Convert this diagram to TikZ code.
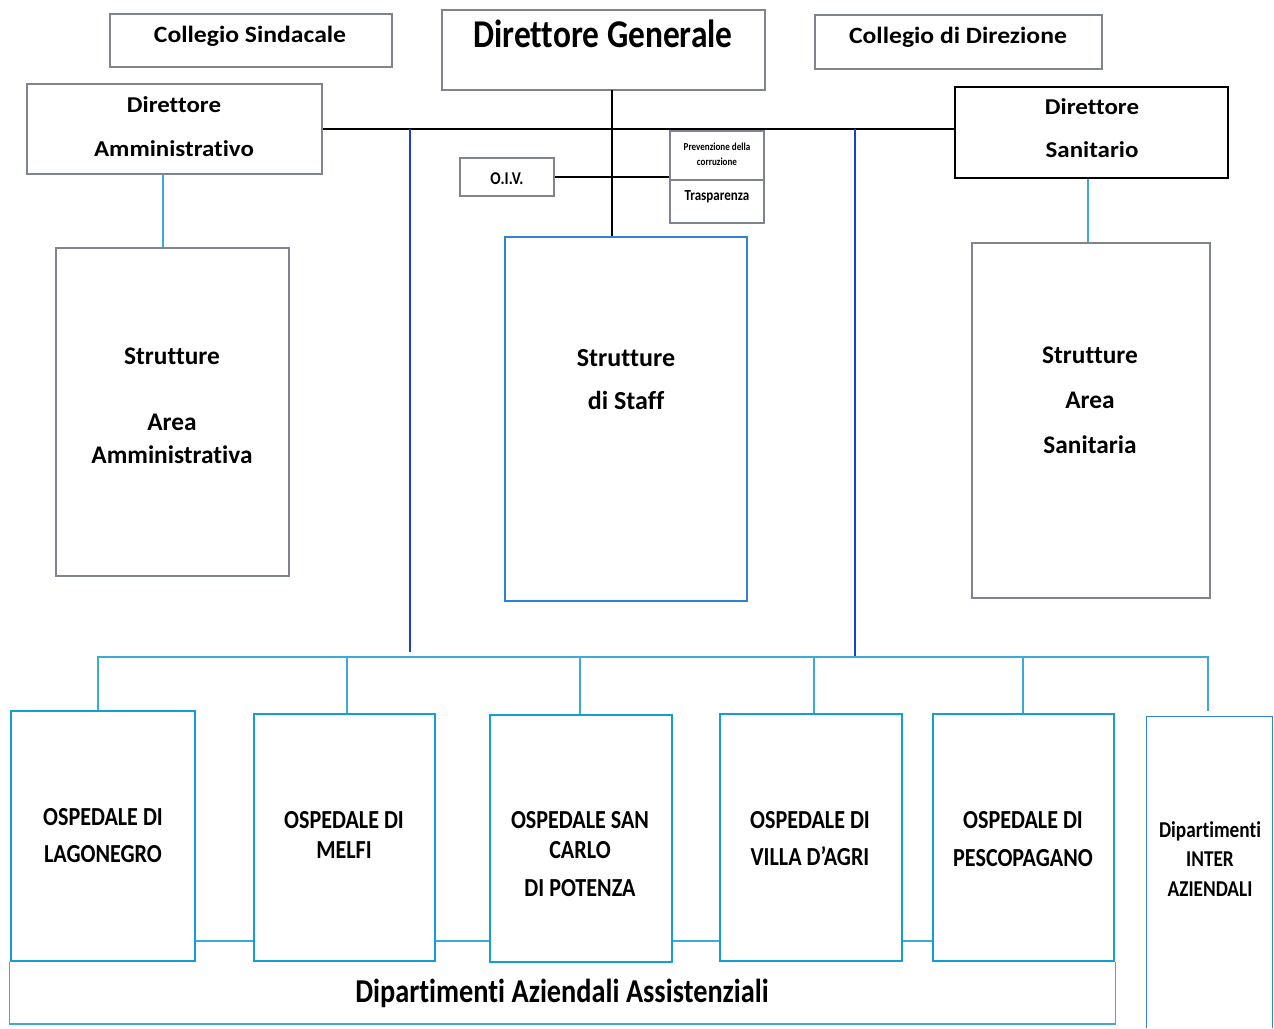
\documentclass[tikz,border=0pt]{standalone}
\usepackage{fontspec}
\setmainfont{Carlito}[Ligatures=NoCommon]
\newfontfamily\nar{Carlito}[FakeStretch=0.85,Ligatures=NoCommon]
\newfontfamily\wid{Carlito}[FakeStretch=1.1,Ligatures=NoCommon]
\newfontfamily\nrm{Carlito}[Ligatures=NoCommon]
\usetikzlibrary{fit}
\definecolor{gbord}{RGB}{128,132,142}
\definecolor{lblue}{RGB}{20,158,212}
\definecolor{tblue}{RGB}{60,170,215}
\definecolor{dblue}{RGB}{30,60,220}
\definecolor{sblue}{RGB}{50,130,210}
\begin{document}
\begin{tikzpicture}[x=0.75pt,y=-0.75pt,
  gbox/.style={draw=gbord,line width=0.8pt,inner sep=0pt},
  kbox/.style={draw=black,line width=0.9pt,inner sep=0pt},
  sbox/.style={draw=sblue,line width=0.9pt,inner sep=0pt},
  hbox/.style={draw=lblue,line width=2.2pt,inner sep=0pt},
  ibox/.style={inner sep=0pt},
  tx/.style n args={2}{inner sep=0pt,anchor=base,font=#1\bfseries\fontsize{#2}{#2}\selectfont,yshift=-0.32*#2pt},
  kline/.style={draw=black,line width=0.9pt},
  bline/.style={draw=dblue,line width=1pt},
  tline/.style={draw=tblue,line width=1pt},
  busline/.style={draw=tblue,line width=1.8pt}
]
\useasboundingbox (0,0) rectangle (1274,1028);
\fill[white] (0,0) rectangle (1274,1028);

% top boxes
\node[gbox,fit={(110,14)(392,67)}] (cs) {};
\node[gbox,fit={(442,10)(765,90)}] (dg) {};
\node[gbox,fit={(815,15)(1102,69)}] (cd) {};
\node[gbox,fit={(27,84)(322,174)}] (da) {};
\node[kbox,fit={(955,87)(1228,178)}] (ds) {};
\node[gbox,fit={(460,158)(554,196)}] (oiv) {};
\node[gbox,fit={(670,131)(764,180)}] (prev) {};
\node[gbox,fit={(670,180)(764,223)}] (trasp) {};
\node[gbox,fit={(56,248)(289,576)}] (saa) {};
\node[sbox,fit={(505,237)(747,601)}] (ss) {};
\node[gbox,fit={(972,243)(1210,598)}] (sas) {};

% texts top
\node[tx={\wid}{17.5}] (csT) at (250,35) {Collegio Sindacale};
\node[tx={\nar}{29.5}] (dgT) at (603,35) {Direttore Generale};
\node[tx={\wid}{17.5}] (cdT) at (958,36) {Collegio di Direzione};
\node[tx={\wid}{17}] (daT1) at (174,105) {Direttore};
\node[tx={\wid}{17}] (daT2) at (174,149) {Amministrativo};
\node[tx={\wid}{17}] (dsT1) at (1092,107) {Direttore};
\node[tx={\wid}{17}] (dsT2) at (1092,150) {Sanitario};
\node[tx={\nar}{13.5}] (oivT) at (507,179) {O.I.V.};
\node[tx={\nar}{8}] (prevT1) at (717,147) {Prevenzione della};
\node[tx={\nar}{8}] (prevT2) at (717,162) {corruzione};
\node[tx={\nar}{11.5}] (traspT) at (717,196) {Trasparenza};

\node[tx={\nrm}{19}] (saaT1) at (172,356) {Strutture};
\node[tx={\nrm}{19}] (saaT2) at (172,422) {Area};
\node[tx={\nrm}{19}] (saaT3) at (172,455) {Amministrativa};
\node[tx={\nrm}{19.5}] (ssT1) at (626,358) {Strutture};
\node[tx={\nrm}{19.5}] (ssT2) at (626,401) {di Staff};
\node[tx={\nrm}{19}] (sasT1) at (1090,355) {Strutture};
\node[tx={\nrm}{19}] (sasT2) at (1090,400) {Area};
\node[tx={\nrm}{19}] (sasT3) at (1090,445) {Sanitaria};

% connectors top
\draw[kline] (da.east) -- (da.east -| ds.west);
\coordinate (dgx) at (612,90);
\draw[kline] (dgx) -- (dgx |- ss.north);
\draw[kline] (oiv.east) -- (oiv.east -| prev.west);
\coordinate (b1t) at (410,129);
\coordinate (b1b) at (410,652);
\coordinate (b2t) at (855,129);
\coordinate (b2b) at (855,657);
\draw[bline] (b1t) -- (b1b);
\draw[bline] (b2t) -- (b2b);
\coordinate (l1) at (163,0);
\draw[tline] (l1 |- da.south) -- (l1 |- saa.north);
\coordinate (l2) at (1088,0);
\draw[tline] (l2 |- ds.south) -- (l2 |- sas.north);

% hospitals
\node[hbox,fit={(11,711)(195,961)}] (h1) {};
\node[hbox,fit={(254,714)(435,961)}] (h2) {};
\node[hbox,fit={(490,715)(672,962)}] (h3) {};
\node[hbox,fit={(720,714)(902,961)}] (h4) {};
\node[hbox,fit={(933,714)(1114,961)}] (h5) {};
\node[ibox,fit={(1147,717)(1272,1028)}] (inter) {};
\draw[draw=sblue,line width=0.9pt] (inter.south west) -- (inter.north west) -- (inter.north east) -- (inter.south east);

\tikzset{htxt/.style={tx={\nar}{19.5}}}
\node[htxt] (h1T1) at (103,817) {OSPEDALE DI};
\node[htxt] (h1T2) at (103,854) {LAGONEGRO};
\node[htxt] (h2T1) at (344,820) {OSPEDALE DI};
\node[htxt] (h2T2) at (344,850) {MELFI};
\node[htxt] (h3T1) at (580,820) {OSPEDALE SAN};
\node[htxt] (h3T2) at (580,850) {CARLO};
\node[htxt] (h3T3) at (580,888) {DI POTENZA};
\node[htxt] (h4T1) at (810,820) {OSPEDALE DI};
\node[htxt] (h4T2) at (810,857) {VILLA D’AGRI};
\node[htxt] (h5T1) at (1023,820) {OSPEDALE DI};
\node[htxt] (h5T2) at (1023,858) {PESCOPAGANO};
\tikzset{itxt/.style={tx={\nar}{17}}}
\node[itxt] (iT1) at (1210,830) {Dipartimenti};
\node[itxt] (iT2) at (1210,859) {INTER};
\node[itxt] (iT3) at (1210,889) {AZIENDALI};

% bus
\coordinate (busL) at (97,657);
\coordinate (busR) at (1209,657);
\draw[busline] (busL) -- (busR);
\coordinate (d1) at (98,657);
\coordinate (d2) at (347,657);
\coordinate (d3) at (580,657);
\coordinate (d4) at (814,657);
\coordinate (d5) at (1023,657);
\coordinate (d6) at (1208,657);
\coordinate (d6e) at (1208,711);
\draw[tline] (d1) -- (d1 |- h1.north);
\draw[tline] (d2) -- (d2 |- h2.north);
\draw[tline] (d3) -- (d3 |- h3.north);
\draw[tline] (d4) -- (d4 |- h4.north);
\draw[tline] (d5) -- (d5 |- h5.north);
\draw[tline] (d6) -- (d6e);

% links between hospitals
\coordinate (yh) at (0,941);
\draw[tline] (h1.east |- yh) -- (h2.west |- yh);
\draw[tline] (h2.east |- yh) -- (h3.west |- yh);
\draw[tline] (h3.east |- yh) -- (h4.west |- yh);
\draw[tline] (h4.east |- yh) -- (h5.west |- yh);

% frame Dipartimenti Aziendali Assistenziali
\coordinate (fb) at (0,1024);
\draw[tline] (h1.south west) -- (h1.south west |- fb) -- (h5.south east |- fb) -- (h5.south east);
\node[tx={\nar}{25}] (daaT) at (562,992) {Dipartimenti Aziendali Assistenziali};
\end{tikzpicture}
\end{document}
